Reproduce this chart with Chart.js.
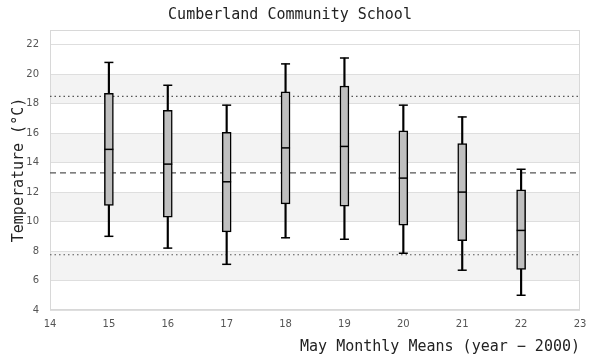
<!DOCTYPE html>
<html>
<head>
<meta charset="utf-8">
<script src="https://cdn.jsdelivr.net/npm/chart.js@4/dist/chart.umd.min.js"></script>
<style>
  html, body { margin: 0; padding: 0; background: #fff; }
  #wrap { width: 600px; height: 360px; position: relative; }
</style>
</head>
<body>
<div id="wrap"><canvas id="c"></canvas></div>
<script>
// ---- data ----
const years       = [15, 16, 17, 18, 19, 20, 21, 22];
const whiskerLow  = [9.0, 8.2, 7.1, 8.9, 8.8, 7.85, 6.7, 5.0];
const q1          = [11.1, 10.3, 9.3, 11.2, 11.05, 9.75, 8.7, 6.75];
const medians     = [14.9, 13.9, 12.7, 15.0, 15.1, 12.95, 12.0, 9.4];
const q3          = [18.7, 17.55, 16.05, 18.8, 19.2, 16.15, 15.3, 12.15];
const whiskerHigh = [20.8, 19.25, 17.9, 20.7, 21.1, 17.9, 17.1, 13.55];
const meanLevel   = 13.3;
const upperLevel  = 18.5;
const lowerLevel  = 7.75;
const xTickValues = [14, 15, 16, 17, 18, 19, 20, 21, 22, 23];
const yTickValues = [4, 6, 8, 10, 12, 14, 16, 18, 20, 22];
const xRange = [14, 23];
const yRange = [4, 23];

const monoFont = "'DejaVu Sans Mono', monospace";
const sansFont = "'DejaVu Sans', sans-serif";

const bandsPlugin = {
  id: 'bands',
  beforeDraw(chart) {
    const {ctx, chartArea: a, scales: {y}} = chart;
    ctx.save();
    ctx.fillStyle = '#f3f3f3';
    for (let i = 1; i + 1 < yTickValues.length; i += 2) {
      const top = y.getPixelForValue(yTickValues[i + 1]);
      const bot = y.getPixelForValue(yTickValues[i]);
      ctx.fillRect(a.left, top, a.right - a.left, bot - top);
    }
    ctx.restore();
  },
  beforeDatasetsDraw(chart) {
    const {ctx, chartArea: a} = chart;
    ctx.save();
    ctx.strokeStyle = '#d8d8d8';
    ctx.lineWidth = 1;
    ctx.strokeRect(a.left + 0.5, a.top + 0.5, a.right - a.left - 1, a.bottom - a.top - 1);
    ctx.restore();
  }
};

const hline = (v, dash) => ({
  type: 'line',
  data: [{x: xRange[0], y: v}, {x: xRange[1], y: v}],
  borderColor: '#555',
  borderWidth: 1.2,
  borderDash: dash,
  pointRadius: 0,
  fill: false,
  order: 10
});

new Chart(document.getElementById('c'), {
  type: 'bar',
  data: {
    datasets: [
      hline(upperLevel, [1.5, 3]),
      hline(meanLevel, [6, 4]),
      hline(lowerLevel, [1.5, 3]),
      {
        // whisker stems
        type: 'bar',
        data: years.map((x, i) => ({x, y: [whiskerLow[i], whiskerHigh[i]]})),
        backgroundColor: '#000',
        borderWidth: 0,
        barThickness: 1.5,
        grouped: false,
        order: 5
      },
      {
        // boxes
        type: 'bar',
        data: years.map((x, i) => ({x, y: [q1[i], q3[i]]})),
        backgroundColor: '#bfbfbf',
        borderColor: '#000',
        borderWidth: 1.5,
        borderSkipped: false,
        barThickness: 9,
        grouped: false,
        order: 2
      },
      {
        // medians
        type: 'line',
        showLine: false,
        data: years.map((x, i) => ({x, y: medians[i]})),
        pointStyle: 'line',
        pointRadius: 4.5,
        pointBorderWidth: 1.5,
        pointBorderColor: '#000',
        order: 1
      },
      {
        // whisker caps (top and bottom)
        type: 'line',
        showLine: false,
        data: years.map((x, i) => ({x, y: whiskerHigh[i]})).concat(years.map((x, i) => ({x, y: whiskerLow[i]}))),
        pointStyle: 'line',
        pointRadius: 4.5,
        pointBorderWidth: 1.5,
        pointBorderColor: '#000',
        order: 1
      }
    ]
  },
  options: {
    responsive: true,
    maintainAspectRatio: false,
    animation: false,
    layout: { padding: { left: 0, right: 20, top: 0, bottom: 0 } },
    plugins: {
      legend: { display: false },
      tooltip: { enabled: false },
      title: {
        display: true,
        text: 'Cumberland Community School',
        color: '#222',
        font: { family: monoFont, size: 15, weight: 'normal' },
        padding: { top: 6, bottom: 6 }
      }
    },
    scales: {
      x: {
        type: 'linear',
        min: xRange[0], max: xRange[1],
        offset: false,
        afterBuildTicks: s => { s.ticks = xTickValues.map(v => ({value: v})); },
        afterFit: s => { s.height = 50; },
        grid: { display: false, offset: false, drawTicks: false },
        border: { display: false },
        ticks: { color: '#555', font: { family: sansFont, size: 10 }, padding: 8, maxRotation: 0 },
        title: {
          display: true,
          text: 'May Monthly Means (year \u2212 2000)',
          align: 'end',
          color: '#222',
          font: { family: monoFont, size: 15, weight: 'normal' },
          padding: { top: 0, bottom: 3.5 }
        }
      },
      y: {
        type: 'linear',
        min: yRange[0], max: yRange[1],
        afterBuildTicks: s => { s.ticks = yTickValues.map(v => ({value: v})); },
        afterFit: s => { s.width = 50; },
        grid: { color: '#dedede', lineWidth: 1, drawTicks: false },
        border: { display: false },
        ticks: { color: '#555', font: { family: sansFont, size: 10 }, padding: 11 },
        title: {
          display: true,
          text: 'Temperature (\u00b0C)',
          color: '#222',
          font: { family: monoFont, size: 15, weight: 'normal' },
          padding: { top: 10, bottom: 0 }
        }
      }
    }
  },
  plugins: [bandsPlugin]
});
</script>
</body>
</html>
